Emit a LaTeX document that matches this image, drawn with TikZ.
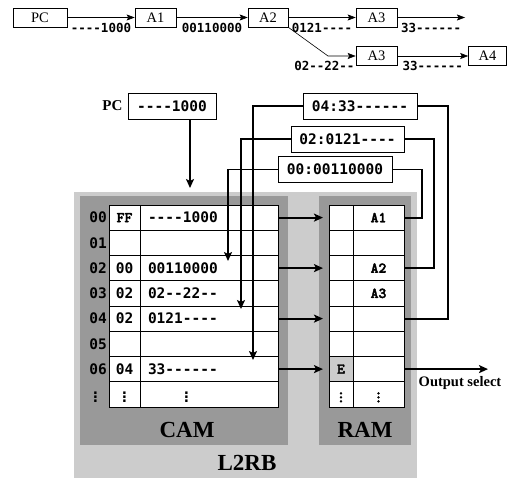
\documentclass[tikz,border=0pt]{standalone}
\usepackage{fontspec}
\setmainfont{Liberation Serif}
\setmonofont{DejaVu Sans Mono}
\newfontfamily\courfont{lmmonolt10-bold.otf}[FakeBold=2.5]
\usepackage{xcolor}
\usepackage{tikz}
\usetikzlibrary{arrows.meta,positioning,calc}

\definecolor{outergray}{HTML}{CCCCCC}
\definecolor{innergray}{HTML}{999999}

\begin{document}
\begin{tikzpicture}[
  x=1pt, y=-1pt,
  >={Stealth[length=9pt,width=8pt,inset=2pt]},
  node distance=0pt,
  hex/.style={font=\fontsize{14.5}{17}\selectfont\ttfamily\bfseries},
  cour/.style={font=\fontsize{15}{17}\selectfont\courfont},
  cell/.style={draw, fill=white, line width=0.8pt, minimum height=25.25pt,
    inner sep=0pt, outer sep=0pt},
  keycell/.style={cell, hex, minimum width=31pt},
  tagcell/.style={cell, hex, minimum width=138pt, text width=122pt, align=left},
  flagcell/.style={cell, cour, minimum width=24pt},
  datcell/.style={cell, cour, minimum width=51pt},
  rowlbl/.style={hex, inner sep=1pt},
  regbox/.style={draw, fill=white, line width=0.8pt, hex, inner sep=0pt,
    minimum height=26pt},
  chainbox/.style={draw, fill=white, line width=0.6pt, inner sep=0pt,
    minimum height=19pt, font=\fontsize{14.5}{17}\selectfont},
  chainlbl/.style={font=\fontsize{12.5}{14}\selectfont\ttfamily\bfseries, inner sep=1pt},
  chainarr/.style={-{Stealth[length=8pt,width=6pt,inset=1.5pt]}, line width=0.6pt},
  boldlbl/.style={font=\fontsize{15}{17}\selectfont\bfseries, inner sep=1pt},
  biglbl/.style={font=\fontsize{23}{26}\selectfont\bfseries, inner sep=0pt},
  arr/.style={->, line width=1.8pt},
  wire/.style={line width=1.8pt},
]
\useasboundingbox (0,0) rectangle (508,479);

% Top chain
\node[chainbox, minimum width=54pt] (pc) at (40,17.5) {PC};
\node[chainbox, minimum width=41pt] (a1) at (155.5,17.5) {A1};
\node[chainbox, minimum width=40pt] (a2) at (268,17.5) {A2};
\node[chainbox, minimum width=41pt] (a3) at (376.5,17.5) {A3};
\node[chainbox, minimum width=41pt] (a3b) at (376.5,56) {A3};
\node[chainbox, minimum width=38pt] (a4) at (487.5,56) {A4};
\coordinate (tail) at (465,17.5);
\coordinate (bend) at (328,56);

\draw[chainarr] (pc) -- (a1) node[chainlbl, midway, below=4pt] {----1000};
\draw[chainarr] (a1) -- (a2) node[chainlbl, midway, below=4pt] {00110000};
\draw[chainarr] (a2) -- (a3) node[chainlbl, midway, below=4pt] {0121----};
\draw[chainarr] (a3) -- (tail) node[chainlbl, midway, below=4pt] {33------};
\draw[chainarr] (a2.south east) -- (bend) -- (a3b);
\node[chainlbl, anchor=north east] (lbl02) at ([yshift=-4pt]a3b.west) {02--22--};
\draw[chainarr] (a3b) -- (a4) node[chainlbl, midway, below=4pt] {33------};

% L2RB blocks
\fill[outergray] (74,192) rectangle (417,478);
\fill[innergray] (80,196) rectangle (288,445);
\fill[innergray] (319,196) rectangle (411,445);
\node[biglbl] (camlbl) at (187,430) {CAM};
\node[biglbl] (ramlbl) at (365,430) {RAM};
\node[biglbl] (l2rb) at (247,463) {L2RB};

% CAM table
\node[keycell, cour] (k0) at (124.5,217.6) {FF};
\node[tagcell, right=of k0] (t0) {----1000};
\node[keycell, below=of k0] (k1) {};
\node[tagcell, right=of k1] (t1) {};
\node[keycell, below=of k1] (k2) {00};
\node[tagcell, right=of k2] (t2) {00110000};
\node[keycell, below=of k2] (k3) {02};
\node[tagcell, right=of k3] (t3) {02--22--};
\node[keycell, below=of k3] (k4) {02};
\node[tagcell, right=of k4] (t4) {0121----};
\node[keycell, below=of k4] (k5) {};
\node[tagcell, right=of k5] (t5) {};
\node[keycell, below=of k5] (k6) {04};
\node[tagcell, right=of k6] (t6) {33------};
\node[keycell, below=of k6] (k7) {$\vdots$};
\node[tagcell, right=of k7] (t7) {\hspace*{34pt}$\vdots$};

% row numbers
\node[rowlbl, left=1pt of k0] (n0) {00};
\node[rowlbl, left=1pt of k1] (n1) {01};
\node[rowlbl, left=1pt of k2] (n2) {02};
\node[rowlbl, left=1pt of k3] (n3) {03};
\node[rowlbl, left=1pt of k4] (n4) {04};
\node[rowlbl, left=1pt of k5] (n5) {05};
\node[rowlbl, left=1pt of k6] (n6) {06};
\node[rowlbl, left=8pt of k7] (n7) {$\vdots$};

% RAM table
\node[flagcell] (f0) at (341,217.6) {};
\node[datcell, right=of f0] (d0) {A1};
\node[flagcell, below=of f0] (f1) {};
\node[datcell, right=of f1] (d1) {};
\node[flagcell, below=of f1] (f2) {};
\node[datcell, right=of f2] (d2) {A2};
\node[flagcell, below=of f2] (f3) {};
\node[datcell, right=of f3] (d3) {A3};
\node[flagcell, below=of f3] (f4) {};
\node[datcell, right=of f4] (d4) {};
\node[flagcell, below=of f4] (f5) {};
\node[datcell, right=of f5] (d5) {};
\node[flagcell, below=of f5, fill=outergray] (f6) {E};
\node[datcell, right=of f6] (d6) {};
\node[flagcell, below=of f6] (f7) {$\vdots$};
\node[datcell, right=of f7] (d7) {$\vdots$};

% Registers
\node[regbox, minimum width=88pt] (pcreg) at (172,106) {----1000};
\node[boldlbl, left=4pt of pcreg] (pclbl) {PC};
\node[regbox, minimum width=114pt] (r04) at (360,106) {04:33------};
\node[regbox, minimum width=113pt] (r02) at (347.5,139) {02:0121----};
\node[regbox, minimum width=114pt] (r00) at (335,169.5) {00:00110000};

% Arrows
\coordinate (pcin) at (190,188);
\coordinate (in02) at (228,261);
\coordinate (in04) at (241,309);
\coordinate (in06) at (253,360);
\coordinate (outend) at (488,0);
\draw[arr] (pcreg.south -| pcin) -- (pcin);
\draw[arr] (r00.west) -| (in02);
\draw[arr] (r02.west) -| (in04);
\draw[arr] (r04.west) -| (in06);
\draw[wire] (r00.east) -| ([xshift=18pt]d0.east) -- (d0.east);
\draw[wire] (r02.east) -| ([xshift=30pt]d2.east) -- (d2.east);
\draw[wire] (r04.east) -| ([xshift=44pt]d4.east) -- (d4.east);
\draw[arr, shorten >=6pt] (t0.east) -- (f0.west);
\draw[arr, shorten >=6pt] (t2.east) -- (f2.west);
\draw[arr, shorten >=6pt] (t4.east) -- (f4.west);
\draw[arr, shorten >=6pt] (t6.east) -- (f6.west);
\draw[arr] (d6.east) -- (d6.east -| outend);
\node[boldlbl, font=\fontsize{14.5}{17}\selectfont\bfseries] (outlbl) at (460,383) {Output select};
\end{tikzpicture}
\end{document}
